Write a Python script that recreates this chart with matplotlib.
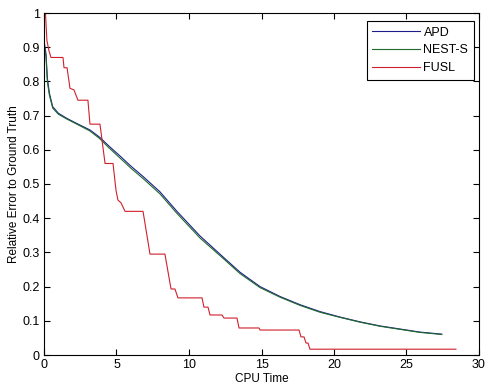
import matplotlib
matplotlib.use("Agg")
import matplotlib.pyplot as plt

plt.rcParams['font.family'] = ['Liberation Sans', 'DejaVu Sans']

# APD curve
apd_x = [0.0, 0.14, 0.23, 0.37, 0.60, 0.99, 1.57, 2.26, 3.17, 3.86, 4.50, 5.24, 6.00, 6.83,
         8.00, 9.17, 10.76, 12.34, 13.52, 14.90, 16.28, 17.66, 19.03, 20.41,
         21.79, 23.17, 24.55, 25.93, 27.43]
apd_y = [0.92, 0.88, 0.81, 0.766, 0.726, 0.707, 0.692, 0.677, 0.658, 0.636, 0.610, 0.582, 0.552, 0.522,
         0.477, 0.420, 0.348, 0.287, 0.242, 0.200, 0.171, 0.147, 0.127, 0.111,
         0.097, 0.085, 0.076, 0.067, 0.061]

# NEST-S curve
nest_x = [0.0, 0.14, 0.23, 0.37, 0.60, 0.99, 1.57, 2.26, 3.17, 3.86, 4.50, 5.24, 6.00, 6.83,
          8.00, 9.17, 10.76, 12.34, 13.52, 14.90, 16.28, 17.66, 19.03, 20.41,
          21.79, 23.17, 24.55, 25.93, 27.43]
nest_y = [0.91, 0.87, 0.80, 0.760, 0.722, 0.704, 0.690, 0.675, 0.655, 0.632, 0.605, 0.576, 0.546, 0.516,
          0.471, 0.414, 0.342, 0.283, 0.238, 0.197, 0.169, 0.145, 0.125, 0.110,
          0.096, 0.084, 0.075, 0.066, 0.060]

# FUSL curve (step-like)
fusl_x = [0.10, 0.20, 0.34, 0.48, 1.31, 1.38, 1.59, 1.79, 2.07, 2.34, 3.03, 3.17,
          3.86, 4.21, 4.76, 4.97, 5.10, 5.31, 5.59, 6.83, 7.31, 8.34, 8.76, 9.03,
          9.24, 10.90, 11.03, 11.31, 11.45, 12.28, 12.41, 13.31, 13.45, 14.83,
          14.90, 17.59, 17.72, 17.93, 18.07, 18.21, 18.34, 28.41]
fusl_y = [1.00, 0.92, 0.89, 0.87, 0.87, 0.84, 0.84, 0.78, 0.775, 0.745, 0.745, 0.675,
          0.675, 0.56, 0.56, 0.48, 0.453, 0.445, 0.42, 0.42, 0.295, 0.295, 0.193, 0.193,
          0.167, 0.167, 0.14, 0.14, 0.117, 0.117, 0.108, 0.108, 0.079, 0.079,
          0.073, 0.073, 0.053, 0.053, 0.035, 0.035, 0.017, 0.017]

series_labels = ['APD', 'NEST-S', 'FUSL']
x_ticks = [0, 5, 10, 15, 20, 25, 30]
y_ticks = [0, 0.1, 0.2, 0.3, 0.4, 0.5, 0.6, 0.7, 0.8, 0.9, 1]
y_tick_labels = ['0', '0.1', '0.2', '0.3', '0.4', '0.5', '0.6', '0.7', '0.8', '0.9', '1']

fig = plt.figure(figsize=(4.93, 3.91), dpi=100)
ax = fig.add_axes([44/493, 1-355/391, 435/493, 342/391])

ax.plot(apd_x, apd_y, color='#1c1c8a', lw=0.8, label=series_labels[0])
ax.plot(nest_x, nest_y, color='#1f6a2c', lw=0.8, label=series_labels[1])
ax.plot(fusl_x, fusl_y, color='#d0202c', lw=0.8, label=series_labels[2])

ax.set_xlim(0, 30)
ax.set_ylim(0, 1)
ax.set_xticks(x_ticks)
ax.set_xticklabels([str(t) for t in x_ticks])
ax.set_yticks(y_ticks)
ax.set_yticklabels(y_tick_labels)
ax.tick_params(direction='in', length=4, width=0.8, labelsize=9,
               top=True, right=True, pad=3)
for s in ax.spines.values():
    s.set_linewidth(0.8)

ax.set_xlabel('CPU Time', fontsize=8.5, labelpad=1)
ax.set_ylabel('Relative Error to Ground Truth', fontsize=8.5, labelpad=2)

leg = ax.legend(loc='upper right', bbox_to_anchor=((474-44)/435, (355-21)/342),
                borderaxespad=0, fancybox=False, frameon=True, fontsize=9,
                handlelength=3.8, handletextpad=0.3, labelspacing=0.45,
                borderpad=0.45)
leg.get_frame().set_edgecolor('black')
leg.get_frame().set_linewidth(0.8)
leg.get_frame().set_alpha(1)

fig.savefig('out.png', dpi=100)
